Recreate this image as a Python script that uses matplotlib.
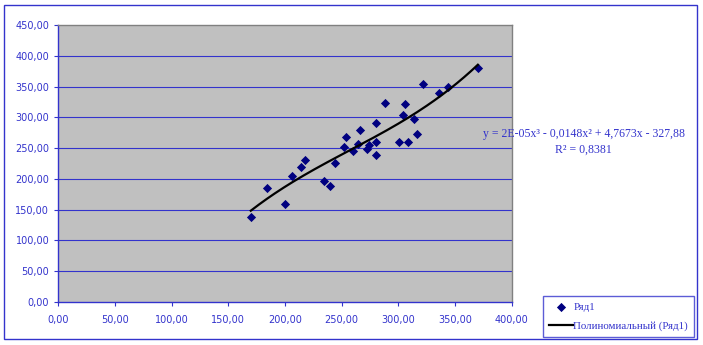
import matplotlib
matplotlib.use("Agg")
import matplotlib.pyplot as plt
from matplotlib.patches import Rectangle
import numpy as np

# data
x_vals = [169.9, 184.0, 199.9, 206.1, 214.0, 217.6, 234.3, 239.6, 244.1, 252.0,
          253.8, 260.0, 264.4, 266.1, 272.3, 274.1, 280.3, 280.3, 280.3, 288.2,
          300.6, 304.1, 305.9, 308.5, 313.8, 316.5, 321.8, 336.2, 343.8, 370.3]
y_vals = [138.6, 185.7, 159.7, 204.7, 219.8, 231.2, 197.0, 188.9, 226.3, 251.8,
          268.5, 245.8, 257.1, 279.9, 248.5, 255.5, 291.3, 260.4, 239.3, 323.7,
          259.9, 303.8, 321.6, 259.9, 297.8, 273.4, 354.1, 340.0, 349.3, 380.6]
x_ticks = [0, 50, 100, 150, 200, 250, 300, 350, 400]
y_ticks = [0, 50, 100, 150, 200, 250, 300, 350, 400, 450]
series_name = "Ряд1"
trend_name = "Полиномиальный (Ряд1)"
eq_text = "y = 2E-05x³ - 0,0148x² + 4,7673x - 327,88"
r2_text = "R² = 0,8381"

BLUE = '#3333cc'
NAVY = '#000080'

fig = plt.figure(figsize=(7.03, 3.45), dpi=100)
ax = fig.add_axes([0.0829, 0.1246, 0.6447, 0.8029])
ax.set_facecolor('#c0c0c0')

ax.scatter(x_vals, y_vals, marker='D', s=22, color=NAVY, zorder=3,
           linewidths=0, label=series_name)

coef = np.polyfit(x_vals, y_vals, 3)
xs = np.linspace(min(x_vals), max(x_vals), 200)
ax.plot(xs, np.polyval(coef, xs), color='black', lw=1.6, zorder=4, label=trend_name)

ax.set_xlim(0, 400)
ax.set_ylim(0, 450)
ax.set_xticks(x_ticks)
ax.set_yticks(y_ticks)
fmt = lambda v: f"{v:.2f}".replace('.', ',')
ax.set_xticklabels([fmt(v) for v in x_ticks])
ax.set_yticklabels([fmt(v) for v in y_ticks])
ax.tick_params(colors=BLUE, labelcolor=BLUE, labelsize=7, length=3, width=0.8,
               direction='out')
ax.tick_params(axis='x', pad=6)
for v in y_ticks[1:-1]:
    ax.axhline(v, color=BLUE, lw=0.8, zorder=1)

for s in ['left', 'bottom']:
    ax.spines[s].set_color(BLUE)
    ax.spines[s].set_linewidth(1.0)
for s in ['top', 'right']:
    ax.spines[s].set_color('#808080')
    ax.spines[s].set_linewidth(1.0)

# trendline equation
fig.text(584 / 703, 1 - 134 / 345, eq_text, ha='center', va='center',
         color=BLUE, fontsize=8.5, family='Liberation Serif')
fig.text(583 / 703, 1 - 149.5 / 345, r2_text, ha='center', va='center',
         color=BLUE, fontsize=8.5, family='Liberation Serif')

leg = fig.legend(loc='upper left', bbox_to_anchor=(543 / 703, 1 - 296 / 345),
                 prop={'family': 'Liberation Serif', 'size': 7.8},
                 frameon=True, fancybox=False, handlelength=2.2,
                 handletextpad=0.05, borderpad=0.55, labelspacing=0.85,
                 borderaxespad=0, scatterpoints=1)
leg.get_frame().set_edgecolor(BLUE)
leg.get_frame().set_linewidth(1.0)
for t in leg.get_texts():
    t.set_color(BLUE)

# outer chart frame
fig.patches.append(Rectangle((4 / 703, 1 - 339 / 345), 693 / 703, 334 / 345,
                             transform=fig.transFigure, fill=False,
                             edgecolor=BLUE, lw=1.0))

fig.savefig('out.png', dpi=100)
